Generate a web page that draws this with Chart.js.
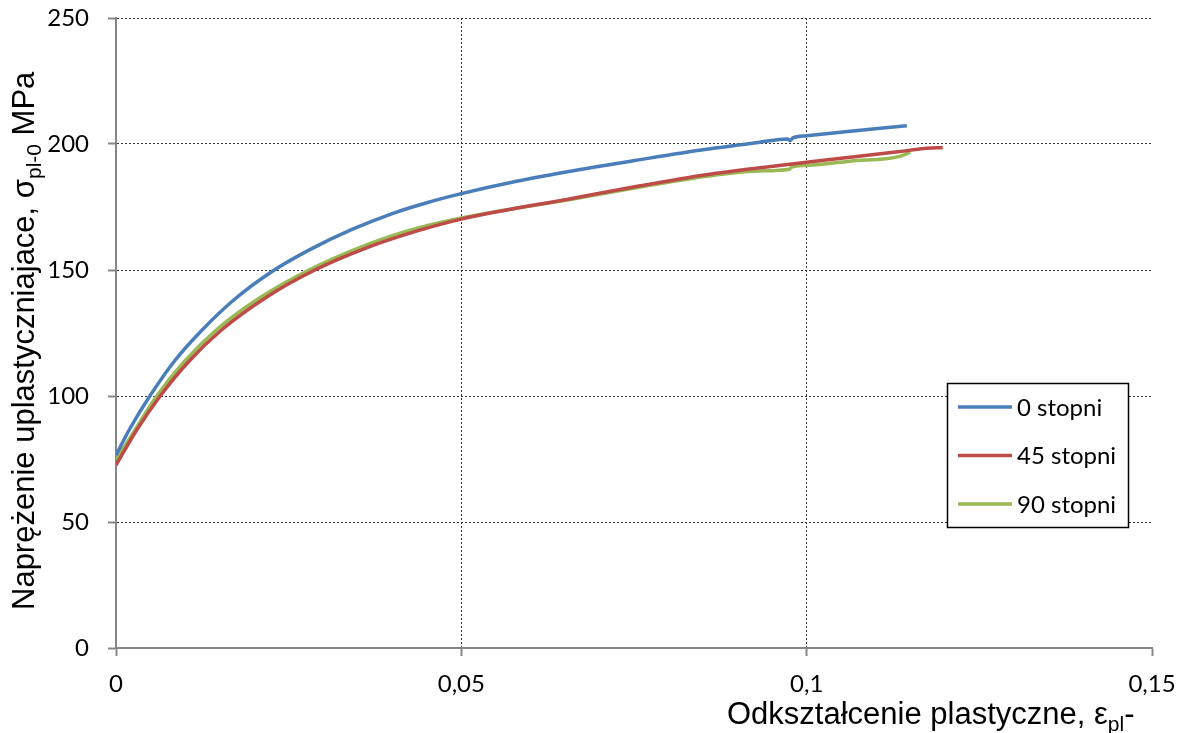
<!DOCTYPE html>
<html>
<head>
<meta charset="utf-8">
<script src="https://cdn.jsdelivr.net/npm/chart.js@4"></script>
<style>
  html, body { margin: 0; padding: 0; background: #fff; }
  #chart { display: block; }
</style>
</head>
<body>
<canvas id="chart" width="1185" height="733"></canvas>
<script>
// ================= DATA =================
const seriesLabels = ["0 stopni", "45 stopni", "90 stopni"];

const x0 = [0, 0.002, 0.0049, 0.0085, 0.0124, 0.017, 0.0227, 0.028, 0.034, 0.04, 0.045, 0.05, 0.058, 0.0662, 0.0759, 0.0855, 0.093, 0.0972, 0.0976, 0.098, 0.1, 0.1063, 0.1145];
const y0 = [76.5, 87, 100, 114, 126, 138, 149.6, 158, 165.9, 172.4, 176.7, 180.3, 185.2, 189.4, 193.8, 197.9, 200.6, 202, 201.3, 202.4, 203.3, 205.1, 207.2];

const x45 = [0, 0.003, 0.0064, 0.0105, 0.0151, 0.022, 0.0288, 0.036, 0.0435, 0.05, 0.0662, 0.0759, 0.0855, 0.093, 0.1, 0.1063, 0.1135, 0.117, 0.1197];
const y45 = [72.6, 86.5, 100, 113.6, 125.8, 139.6, 150, 158.5, 165.4, 170.2, 178.5, 183.4, 187.8, 190.5, 192.8, 194.7, 197, 198.2, 198.6];

const x90 = [0, 0.00275, 0.0059, 0.01, 0.0146, 0.021, 0.0281, 0.035, 0.0421, 0.05, 0.0662, 0.0759, 0.0855, 0.093, 0.0975, 0.0978, 0.1, 0.1063, 0.1135, 0.115];
const y90 = [74.6, 86.5, 100, 114, 126.4, 139.3, 150.2, 158.6, 165.4, 170.6, 178.2, 182.9, 187.2, 189.3, 190, 190.8, 191.5, 193.2, 195.1, 196.8];

const xTicks = [0, 0.05, 0.1, 0.15];
const yTicks = [0, 50, 100, 150, 200, 250];

const colors = ["#4a7ebb", "#be4b48", "#98b954"];

function pts(xs, ys) {
  return xs.map((x, i) => ({ x: x, y: ys[i] }));
}

// ================= PLUGINS =================

// axis titles with subscripts
const axisTitles = {
  id: "axisTitles",
  afterDraw(chart) {
    const ctx = chart.ctx;
    const big = "31px 'Liberation Sans', Arial, sans-serif";
    const small = "21px 'Liberation Sans', Arial, sans-serif";

    function runs(parts, x, y) {
      parts.forEach((p) => {
        ctx.font = p.sub ? small : big;
        ctx.fillText(p.t, x, y + (p.sub ? 7 : 0));
        x += ctx.measureText(p.t).width;
      });
    }

    ctx.save();
    ctx.fillStyle = "#000";
    ctx.textBaseline = "alphabetic";
    ctx.textAlign = "left";

    // x title
    runs(
      [
        { t: "Odkształcenie plastyczne, ε" },
        { t: "pl", sub: true },
        { t: "-" },
      ],
      727,
      724,
    );

    // y title
    ctx.translate(34, 610);
    ctx.rotate(-Math.PI / 2);
    runs(
      [
        { t: "Naprężenie uplastyczniajace, σ" },
        { t: "pl-0", sub: true },
        { t: " MPa" },
      ],
      0,
      0,
    );
    ctx.restore();
  },
};

// legend box inside the plot
const boxLegend = {
  id: "boxLegend",
  afterDraw(chart) {
    const ctx = chart.ctx;
    const left = 947.5, top = 383.5, w = 181, h = 144;
    ctx.save();
    ctx.fillStyle = "#fff";
    ctx.fillRect(left, top, w, h);
    ctx.strokeStyle = "#000";
    ctx.lineWidth = 1.5;
    ctx.strokeRect(left, top, w, h);

    ctx.font = "24px Lato, sans-serif";
    ctx.textBaseline = "middle";
    chart.data.datasets.forEach((ds, i) => {
      const y = 407 + i * 48.5;
      ctx.strokeStyle = ds.borderColor;
      ctx.lineWidth = 3.5;
      ctx.beginPath();
      ctx.moveTo(958, y);
      ctx.lineTo(1012, y);
      ctx.stroke();
      ctx.fillStyle = "#000";
      ctx.fillText(ds.label, 1017, y + 1);
    });
    ctx.restore();
  },
};

// ================= CHART =================

const tickFont = { family: "Lato, sans-serif", size: 24 };

new Chart(document.getElementById("chart"), {
  type: "line",
  data: {
    datasets: [
      { label: seriesLabels[0], data: pts(x0, y0), borderColor: colors[0] },
      { label: seriesLabels[1], data: pts(x45, y45), borderColor: colors[1] },
      { label: seriesLabels[2], data: pts(x90, y90), borderColor: colors[2] },
    ].map((d) => ({
      ...d,
      borderWidth: 3.5,
      pointRadius: 0,
      fill: false,
      cubicInterpolationMode: "monotone",
    })),
  },
  options: {
    responsive: false,
    animation: false,
    layout: { padding: { top: 18, right: 33, left: 0, bottom: 0 } },
    plugins: {
      legend: { display: false },
      tooltip: { enabled: false },
    },
    scales: {
      x: {
        type: "linear",
        min: 0,
        max: 0.15,
        afterBuildTicks: (s) => {
          s.ticks = xTicks.map((v) => ({ value: v }));
        },
        afterFit: (s) => {
          s.height = 85;
          s.paddingLeft = 0;
          s.paddingRight = 0;
        },
        ticks: {
          font: tickFont,
          color: "#000",
          padding: 14,
          maxRotation: 0,
          callback: (v) => String(Math.round(v * 100) / 100).replace(".", ","),
        },
        grid: {
          color: (c) => (c.tick && c.tick.value === 0.15 ? "rgba(0,0,0,0)" : "#333"),
          tickColor: "#868686",
          tickLength: 8,
          tickWidth: 2,
          lineWidth: 1,
        },
        border: { color: "#868686", width: 2, dash: [2, 2] },
      },
      y: {
        min: 0,
        max: 250,
        afterBuildTicks: (s) => {
          s.ticks = yTicks.map((v) => ({ value: v }));
        },
        afterFit: (s) => {
          s.width = 116;
          s.paddingTop = 0;
          s.paddingBottom = 0;
        },
        ticks: {
          font: tickFont,
          color: "#000",
          padding: 19,
        },
        grid: {
          color: "#333",
          tickColor: "#868686",
          tickLength: 8,
          tickWidth: 2,
          lineWidth: 1,
        },
        border: { color: "#868686", width: 2, dash: [2, 2] },
      },
    },
  },
  plugins: [axisTitles, boxLegend],
});
</script>
</body>
</html>
